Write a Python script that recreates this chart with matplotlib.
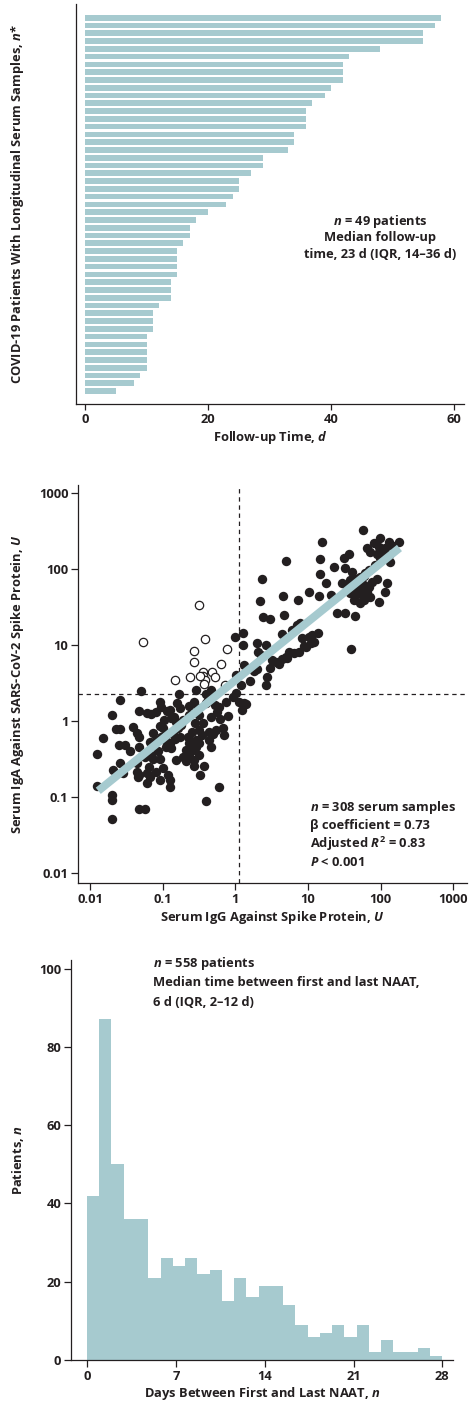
import matplotlib
matplotlib.use("Agg")
from matplotlib import pyplot as plt
import numpy as np

# ---- data ----
# follow-up time per patient (days), longest first
follow_up_days = [58, 57, 55, 55, 48, 43, 42, 42, 42, 40, 39, 37, 36, 36, 36,
                  34, 34, 33, 29, 29, 27, 25, 25, 24, 23, 20, 18, 17, 17, 16,
                  15, 15, 15, 15, 14, 14, 14, 12, 11, 11, 11, 10, 10, 10, 10,
                  10, 9, 8, 5]

# serum IgG vs IgA (U), filled markers
igg_filled = [
    0.050, 0.167, 0.29, 0.39, 0.46, 0.026, 0.047, 0.060, 0.070, 0.091,
    0.096, 0.080, 0.115, 0.125, 0.157, 0.171, 0.274, 0.305, 0.40, 0.52,
    0.60, 0.745, 0.92, 1.02, 1.13, 1.33, 1.24, 0.020, 0.039, 0.023,
    0.026, 0.044, 0.047, 0.074, 0.091, 0.101, 0.106, 0.132, 0.154, 0.19,
    0.162, 0.142, 0.234, 0.32, 0.46, 0.54, 0.67, 0.71, 0.44, 0.32,
    0.0152, 0.025, 0.030, 0.048, 0.066, 0.082, 0.112, 0.125, 0.096, 0.171,
    0.222, 0.234, 0.29, 0.32, 0.44, 0.46, 0.0126, 0.026, 0.021, 0.044,
    0.057, 0.070, 0.074, 0.091, 0.132, 0.154, 0.19, 0.234, 0.274, 0.29,
    0.32, 0.376, 0.044, 0.048, 0.060, 0.066, 0.082, 0.101, 0.118, 0.125,
    0.091, 0.060, 0.046, 0.0286, 0.0124, 0.020, 0.020, 0.125, 0.328, 0.60,
    0.39, 0.048, 0.057, 0.020, 0.274, 0.21, 0.26,
    0.11, 0.14, 0.18, 0.25, 0.36, 0.085, 0.065, 0.21, 0.50, 0.56,
    0.035, 0.15, 0.28, 0.35, 0.62, 0.80, 0.23, 0.42,
    1.26, 1.0, 1.29, 2.02, 2.63, 2.08, 2.25, 4.45, 6.1, 7.1,
    7.9, 8.4, 10.3, 10.9, 13.8, 9.3, 7.5, 6.4, 5.5, 4.95,
    4.45, 3.6, 3.24, 4.0, 39.7, 1.33, 1.82, 2.02, 2.77, 2.63,
    1.2, 1.02, 1.4, 1.6, 3.0, 5.2, 8.8, 12.0,
    5.0, 2.37, 2.18, 4.5, 2.42, 2.99, 4.7,
    56.6, 15.7, 99, 129, 116, 177, 94, 65, 72, 36.5,
    31, 14.9, 22.7, 32.8, 40.5, 45, 52.7, 61.7, 68.5, 84.6,
    99, 129, 136, 89, 76, 122, 116, 94, 58.5, 50,
    45, 42.7, 52.7, 38.5, 34.6, 29.5, 14.5, 17.5, 10.3, 14.2,
    21, 7.4, 25.2, 32.8, 44, 11.5, 55.5, 65, 47.4, 38.5,
    72, 58.5, 80, 89, 150, 110, 60, 48, 70, 42]
iga_filled = [
    2.5, 2.3, 2.6, 2.3, 2.6, 1.9, 1.37, 1.26, 1.24, 1.8,
    1.54, 1.33, 1.37, 1.4, 1.71, 1.47, 1.8, 1.47, 1.71, 1.62,
    1.54, 1.8, 2.09, 2.31, 1.8, 1.71, 1.4, 1.2, 0.83, 0.78,
    0.78, 0.70, 0.62, 0.70, 0.86, 0.80, 1.03, 1.09, 0.98, 1.03,
    0.80, 1.14, 1.2, 1.2, 1.14, 0.76, 0.80, 0.65, 0.72, 0.76,
    0.60, 0.49, 0.48, 0.46, 0.53, 0.56, 0.46, 0.52, 0.62, 0.62,
    0.62, 0.51, 0.56, 0.51, 0.56, 0.46, 0.365, 0.28, 0.23, 0.28,
    0.34, 0.36, 0.32, 0.32, 0.44, 0.31, 0.34, 0.36, 0.31, 0.46,
    0.36, 0.26, 0.215, 0.195, 0.205, 0.185, 0.215, 0.24, 0.195, 0.167,
    0.167, 0.151, 0.185, 0.205, 0.14, 0.108, 0.091, 0.137, 0.195, 0.137,
    0.089, 0.070, 0.070, 0.051, 0.26, 0.42, 0.42,
    0.55, 0.68, 0.9, 0.72, 0.95, 0.40, 0.25, 0.30, 0.68, 1.3,
    0.40, 0.58, 0.95, 0.66, 1.05, 1.15, 1.6, 1.9,
    14.5, 12.9, 10.0, 10.7, 10.0, 8.2, 7.4, 14.0, 15.7, 18.3,
    19.3, 12.2, 12.9, 10.5, 14.5, 9.5, 8.2, 7.8, 8.2, 7.0,
    6.5, 6.0, 6.35, 5.7, 8.9, 5.5, 4.6, 4.9, 3.8, 2.98,
    2.98, 4.0, 1.67, 3.4, 5.0, 6.8, 9.8, 11.0,
    128, 74, 38, 44.5, 23.6, 21.8, 24.8,
    329, 229, 258, 229, 187, 224, 196, 187, 169, 156,
    138, 135, 107, 102, 92, 75, 79, 88, 97, 113,
    138, 153, 125, 75, 68, 65, 50, 37, 61.5, 53,
    45.5, 39, 35.4, 47.9, 58.5, 65, 85, 65, 50, 44,
    45.5, 39, 26, 26, 24, 13.5, 45.5, 50, 65, 72,
    43, 39, 218, 157, 200, 160, 82, 56, 58, 60]

# samples below the IgG cut-off but above the IgA cut-off (open markers)
igg_open = [0.321, 0.0532, 0.379, 0.272, 0.777, 0.272, 0.643, 0.147, 0.239,
            0.357, 0.365, 0.480, 0.532, 0.388, 0.373, 0.713, 0.328]
iga_open = [33.3, 10.9, 11.9, 8.3, 8.9, 6.0, 5.6, 3.5, 3.8,
            4.4, 3.9, 4.4, 3.8, 3.5, 3.1, 3.0, 3.9]

igg_cutoff = 1.12
iga_cutoff = 2.27
fit_igg = [0.013, 182]
fit_iga = [0.121, 189]

# days between first and last NAAT, patients per day
naat_days = list(range(29))
naat_counts = [42, 87, 50, 36, 36, 21, 26, 24, 26, 22, 23, 15, 21, 16, 19,
               19, 14, 9, 6, 7, 9, 6, 9, 2, 5, 2, 2, 3, 1]

# ---- style ----
TEAL = '#a6cacf'
INK = '#231f20'
plt.rcParams['font.family'] = ['Open Sans', 'DejaVu Sans']
plt.rcParams['font.weight'] = 'bold'
plt.rcParams['mathtext.fontset'] = 'custom'
plt.rcParams['mathtext.it'] = 'Open Sans:italic:bold'
plt.rcParams['mathtext.rm'] = 'Open Sans:bold'
plt.rcParams['text.color'] = INK
plt.rcParams['axes.edgecolor'] = INK
plt.rcParams['xtick.color'] = INK
plt.rcParams['ytick.color'] = INK
FS = 9.3

W, H = 473, 1402
fig = plt.figure(figsize=(W / 100, H / 100), dpi=100)


def px_axes(left, top, right, bottom):
    """Add axes from pixel box of the reference."""
    return fig.add_axes([left / W, 1 - bottom / H,
                         (right - left) / W, (bottom - top) / H])


def style(ax):
    for s in ('top', 'right'):
        ax.spines[s].set_visible(False)
    for s in ('left', 'bottom'):
        ax.spines[s].set_linewidth(0.9)
    ax.tick_params(labelsize=FS, width=0.9, length=5, pad=2)


# Panel 1: follow-up bars
ax1 = px_axes(76, 4, 464, 404)
style(ax1)
pos = np.arange(len(follow_up_days))[::-1]
ax1.barh(pos, follow_up_days, height=0.73, color=TEAL, left=0)
ax1.set_xlim(-1.5, 61.7)
ax1.set_ylim(-1.67, len(follow_up_days) - 1 + 1.77)
ax1.set_yticks([])
ax1.set_xticks([0, 20, 40, 60])
ax1.tick_params(axis='x', length=4.5)
fig.text(18 / W, 1 - 204 / H,
         'COVID-19 Patients With Longitudinal Serum Samples, $n$*',
         rotation=90, ha='center', va='center', fontsize=FS)
fig.text(270 / W, 1 - 437 / H, 'Follow-up Time, $d$',
         ha='center', va='center', fontsize=FS)
for txt, yy in [('$n$ = 49 patients', 221), ('Median follow-up', 238),
                ('time, 23 d (IQR, 14\u201336 d)', 255)]:
    fig.text(380 / W, 1 - yy / H, txt, ha='center', va='center', fontsize=FS)

# Panel 2: IgA vs IgG scatter
ax2 = px_axes(78, 485, 467, 883)
style(ax2)
ax2.set_xscale('log')
ax2.set_yscale('log')
ax2.set_xlim(10 ** -2.165, 10 ** 3.19)
ax2.set_ylim(10 ** -2.13, 10 ** 3.105)
ax2.axvline(igg_cutoff, color=INK, lw=0.9, ls=(0, (3.5, 3)), zorder=1)
ax2.axhline(iga_cutoff, color=INK, lw=0.9, ls=(0, (3.5, 3)), zorder=1)
ax2.scatter(igg_filled, iga_filled, s=46, color=INK, lw=0, zorder=2)
ax2.scatter(igg_open, iga_open, s=36, facecolor='white', edgecolor=INK,
            lw=0.9, zorder=2)
ax2.plot(fit_igg, fit_iga, color=TEAL, lw=5.8, solid_capstyle='butt',
         zorder=3)
ticks = [0.01, 0.1, 1, 10, 100, 1000]
labels = ['0.01', '0.1', '1', '10', '100', '1000']
ax2.set_xticks(ticks)
ax2.set_xticklabels(labels)
ax2.set_yticks(ticks)
ax2.set_yticklabels(labels)
ax2.minorticks_off()
fig.text(18 / W, 1 - 684 / H,
         'Serum IgA Against SARS-CoV-2 Spike Protein, $U$',
         rotation=90, ha='center', va='center', fontsize=FS)
fig.text(272 / W, 1 - 917 / H, 'Serum IgG Against Spike Protein, $U$',
         ha='center', va='center', fontsize=FS)
for txt, yy in [('$n$ = 308 serum samples', 808),
                ('\u03b2 coefficient = 0.73', 826),
                ('Adjusted $R^2$ = 0.83', 844), ('$P$ < 0.001', 862)]:
    fig.text(310 / W, 1 - yy / H, txt, ha='left', va='center', fontsize=FS)

# Panel 3: NAAT histogram
ax3 = px_axes(71, 960, 453, 1360)
style(ax3)
ax3.hist(naat_days, bins=29, weights=naat_counts, color=TEAL)
ax3.set_xlim(-1.26, 28.84)
ax3.set_ylim(0, 102.2)
ax3.set_xticks([0, 7, 14, 21, 28])
ax3.set_yticks([0, 20, 40, 60, 80, 100])
fig.text(18 / W, 1 - 1160 / H, 'Patients, $n$', rotation=90,
         ha='center', va='center', fontsize=FS)
fig.text(262 / W, 1 - 1393 / H, 'Days Between First and Last NAAT, $n$',
         ha='center', va='center', fontsize=FS)
for txt, yy in [('$n$ = 558 patients', 963),
                ('Median time between first and last NAAT,', 983),
                ('6 d (IQR, 2\u201312 d)', 1002)]:
    fig.text(153 / W, 1 - yy / H, txt, ha='left', va='center', fontsize=FS)

fig.savefig('out.png', dpi=100)
